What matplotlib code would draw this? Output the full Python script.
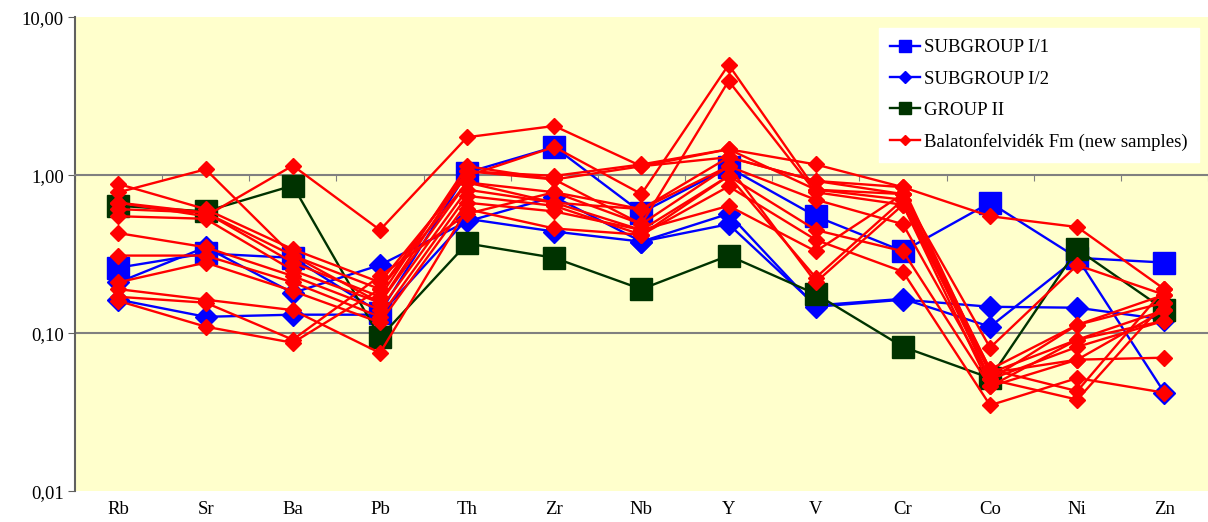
import numpy as np
import matplotlib
matplotlib.use("Agg")
import matplotlib.pyplot as plt
from matplotlib.ticker import FixedLocator, FuncFormatter, NullLocator

elements = ["Rb", "Sr", "Ba", "Pb", "Th", "Zr", "Nb", "Y", "V", "Cr", "Co", "Ni", "Zn"]

# SUBGROUP I/1 (blue squares)
sub1 = [0.26, 0.32, 0.30, 0.135, 1.04, 1.51, 0.58, 1.12, 0.55, 0.33, 0.67, 0.30, 0.28]

# SUBGROUP I/2 (blue diamonds), two samples
sub2_a = [0.21, 0.35, 0.18, 0.27, 0.51, 0.73, 0.38, 0.57, 0.147, 0.163, 0.147, 0.145, 0.122]
sub2_b = [0.163, 0.127, 0.131, 0.131, 0.53, 0.44, 0.38, 0.49, 0.15, 0.165, 0.11, 0.30, 0.042]

# GROUP II (dark green squares)
group2 = [0.64, 0.59, 0.86, 0.094, 0.37, 0.30, 0.19, 0.31, 0.177, 0.082, 0.052, 0.34, 0.141]

# Balatonfelvidék Fm (new samples), red diamonds
red_1 = [0.78, 1.09, 0.31, 0.19, 1.06, 0.99, 1.17, 1.46, 1.17, 0.84, 0.55, 0.47, 0.19]
red_2 = [0.67, 0.55, 1.15, 0.45, 1.74, 2.05, 1.14, 1.30, 0.92, 0.76, 0.081, 0.27, 0.175]
red_3 = [0.88, 0.61, 0.34, 0.21, 0.99, 1.51, 0.76, 5.0, 0.81, 0.70, 0.059, 0.113, 0.156]
red_4 = [0.61, 0.58, 0.28, 0.17, 1.14, 0.94, 0.49, 3.95, 0.78, 0.65, 0.056, 0.091, 0.14]
red_5 = [0.55, 0.53, 0.25, 0.156, 0.90, 0.78, 0.61, 1.14, 0.70, 0.49, 0.051, 0.082, 0.12]
red_6 = [0.43, 0.35, 0.23, 0.141, 0.81, 0.67, 0.45, 0.99, 0.45, 0.33, 0.046, 0.068, 0.07]
red_7 = [0.31, 0.31, 0.21, 0.127, 0.74, 0.64, 0.42, 0.85, 0.39, 0.245, 0.035, 0.052, 0.042]
red_8 = [0.21, 0.28, 0.185, 0.117, 0.67, 0.59, 0.45, 0.64, 0.33, 0.76, 0.059, 0.043, 0.19]
red_9 = [0.19, 0.163, 0.14, 0.075, 0.61, 0.46, 0.42, 0.99, 0.225, 0.70, 0.051, 0.038, 0.156]
red_10 = [0.17, 0.156, 0.091, 0.23, 0.57, 0.78, 0.49, 1.14, 0.21, 0.65, 0.046, 0.091, 0.12]
red_11 = [0.16, 0.11, 0.087, 0.19, 0.90, 0.67, 0.61, 1.30, 0.92, 0.84, 0.056, 0.068, 0.14]
red_12 = [0.67, 0.58, 0.31, 0.156, 1.06, 0.94, 1.14, 1.46, 0.81, 0.76, 0.051, 0.113, 0.175]
red_samples = [red_1, red_2, red_3, red_4, red_5, red_6, red_7, red_8, red_9, red_10, red_11, red_12]

y_ticks = [0.01, 0.1, 1, 10]

plt.rcParams["font.family"] = ["Liberation Serif", "DejaVu Serif"]

fig = plt.figure(figsize=(12.08, 5.22), dpi=100)
ax = fig.add_axes([0.062, 0.059, 0.938, 0.908])
ax.set_facecolor("#FFFFCC")

x = np.arange(len(elements))

ax.plot(x, sub1, color="#0000FF", lw=1.7, marker="s", ms=16, mec="#0000FF",
        label="SUBGROUP I/1", zorder=3)
ax.plot(x, sub2_a, color="#0000FF", lw=1.7, marker="D", ms=11, mec="#0000FF",
        label="SUBGROUP I/2", zorder=3)
ax.plot(x, sub2_b, color="#0000FF", lw=1.7, marker="D", ms=11, mec="#0000FF", zorder=3)
ax.plot(x, group2, color="#003300", lw=1.7, marker="s", ms=16, mec="#003300",
        label="GROUP II", zorder=4)
for i, s in enumerate(red_samples):
    ax.plot(x, s, color="#FF0000", lw=1.7, marker="D", ms=8.5, mec="#FF0000",
            label="Balatonfelvidék Fm (new samples)" if i == 0 else None, zorder=5)

ax.set_yscale("log")
ax.set_ylim(0.01, 10)
ax.set_xlim(-0.5, len(elements) - 0.5)
ax.yaxis.set_major_locator(FixedLocator(y_ticks))
ax.yaxis.set_minor_locator(NullLocator())
ax.yaxis.set_major_formatter(FuncFormatter(lambda v, p: ("%.2f" % v).replace(".", ",")))
ax.tick_params(axis="y", labelsize=13.5, length=5, color="#606060", pad=3)

# category axis crosses at 1,00 like in Excel
ax.spines["bottom"].set_position(("data", 1.0))
ax.spines["bottom"].set_color("#808080")
ax.spines["bottom"].set_linewidth(1.5)
ax.spines["left"].set_color("#606060")
ax.spines["left"].set_linewidth(1.5)
ax.spines["top"].set_visible(False)
ax.spines["right"].set_visible(False)
ax.set_xticks(np.arange(len(elements) + 1) - 0.5)
ax.set_xticklabels([])
ax.tick_params(axis="x", length=4, color="#808080", direction="out")
ax.axhline(0.1, color="#808080", lw=1.5, zorder=1)

sec = ax.secondary_xaxis(0)
sec.set_xticks(x)
sec.set_xticklabels(elements)
sec.tick_params(length=0, labelsize=13.5, pad=7)
sec.spines["bottom"].set_visible(False)

leg = ax.legend(loc="upper right", bbox_to_anchor=(1.0, 0.997), fontsize=13.5,
                frameon=True, fancybox=False, markerscale=0.55, handlelength=1.6,
                handletextpad=0.2, labelspacing=0.75, borderpad=0.6)
leg.get_frame().set_facecolor("white")
leg.get_frame().set_edgecolor("white")
leg.get_frame().set_alpha(1)

fig.savefig("out.png", dpi=100)
